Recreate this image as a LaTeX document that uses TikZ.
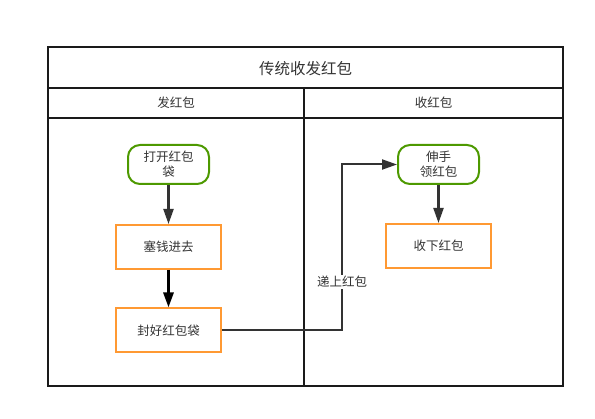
\documentclass[tikz,border=0pt]{standalone}
\usepackage{fontspec}
\setmainfont{Noto Sans CJK SC}
\usetikzlibrary{arrows.meta}
\definecolor{lanecol}{HTML}{1A1A1A}
\definecolor{greenc}{HTML}{4D9900}
\definecolor{orangec}{HTML}{FF9933}
\definecolor{txtc}{HTML}{333333}
\definecolor{arrc}{HTML}{333333}
\tikzset{
  lane/.style={draw=lanecol, line width=2pt},
  term/.style={draw=greenc, line width=2pt, rounded corners=12pt, minimum width=81pt, minimum height=39pt, inner sep=1pt, align=center, font=\fontsize{12.5pt}{15pt}\selectfont, text=txtc},
  proc/.style={draw=orangec, line width=2pt, minimum width=105pt, minimum height=44pt, inner sep=1pt, align=center, font=\fontsize{12.5pt}{15pt}\selectfont, text=txtc},
  conn/.style={draw=arrc, line width=2.2pt, -{Triangle[length=15pt,width=10pt]}},
  lbl/.style={fill=white, inner sep=1pt, font=\fontsize{12.5pt}{15pt}\selectfont, text=txtc},
}
\begin{document}
\begin{tikzpicture}[x=1pt,y=-1pt]
\useasboundingbox (0,0) rectangle (595,419);
\draw[lane] (48,47) rectangle (563,386);
\draw[lane] (48,88) -- (563,88);
\draw[lane] (48,118) -- (563,118);
\draw[lane] (304,88) -- (304,386);
\node[text=txtc, font=\fontsize{15.5pt}{18pt}\selectfont] (title) at (305.5,69) {传统收发红包};
\node[text=txtc, font=\fontsize{12.5pt}{15pt}\selectfont] (h1) at (176,103) {发红包};
\node[text=txtc, font=\fontsize{12.5pt}{15pt}\selectfont] (h2) at (433.5,103) {收红包};

\node[term] (open) at (168.5,164.5) {打开红包\\袋};
\node[proc] (put) at (168.5,247) {塞钱进去};
\node[proc] (seal) at (168.5,330.5) {封好红包袋};
\node[term] (reach) at (438.5,164.5) {伸手\\领红包};
\node[proc] (recv) at (438.5,246) {收下红包};

\draw[conn] (open) -- (put);
\draw[draw=black, line width=2.8pt, -{Triangle[length=15pt,width=10pt]}] (put) -- (seal);
\draw[conn] (reach) -- (recv);
\draw[conn, line width=2pt] (seal.east) -- (342,330.5) -- (342,164.5) -- (reach.west);
\node[lbl] (give) at (342,282) {递上红包};
\end{tikzpicture}
\end{document}
